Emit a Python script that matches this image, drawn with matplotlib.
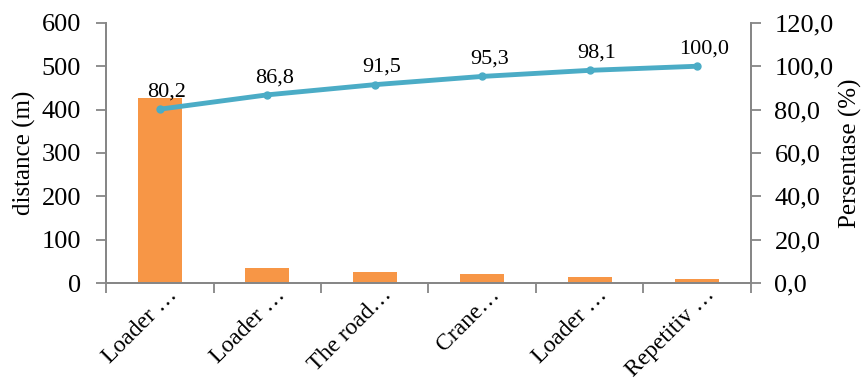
import matplotlib
matplotlib.use("Agg")
from matplotlib import pyplot as plt
from matplotlib.ticker import FuncFormatter, MultipleLocator, FixedLocator
import matplotlib.transforms as mtransforms
import numpy as np

# Data
categories = ["Loader …", "Loader …", "The road…", "Crane…", "Loader …", "Repetitiv …"]
distance = [427, 35, 25, 20, 15, 10]
percent = [80.2, 86.8, 91.5, 95.3, 98.1, 100.0]

plt.rcParams['font.family'] = ['Liberation Serif', 'DejaVu Serif']

bar_color = '#F79646'
line_color = '#4BACC6'
axis_color = '#868686'

fig = plt.figure(figsize=(8.63, 3.81), dpi=100)
ax = fig.add_axes([0.123, 0.257, 0.747, 0.683])
ax2 = ax.twinx()

x = np.arange(len(categories))
ax.bar(x, distance, width=0.41, color=bar_color, zorder=2)
ax2.plot(x, percent, color=line_color, lw=3.5, marker='o', ms=5, zorder=3,
         solid_capstyle='round')
for xi, p in zip(x, percent):
    ax2.annotate(f"{p:.1f}".replace('.', ','), (xi, p), xytext=(5, 5.5),
                 textcoords='offset points', ha='center', va='bottom', fontsize=16)

ax.set_xlim(-0.5, len(categories) - 0.5)
ax.set_ylim(0, 600)
ax2.set_ylim(0, 120)
ax.yaxis.set_major_locator(MultipleLocator(100))
ax2.yaxis.set_major_locator(MultipleLocator(20))
ax2.yaxis.set_major_formatter(FuncFormatter(lambda v, _: f"{v:.1f}".replace('.', ',')))

ax.set_xticks(x)
ax.set_xticklabels(categories, rotation=45, ha='right', va='top',
                   rotation_mode='anchor', fontsize=17)
ax.tick_params(axis='x', which='major', length=0, pad=1)
# nudge rotated labels a bit to the right, like the original
shift = mtransforms.ScaledTranslation(5 / 72, 0, fig.dpi_scale_trans)
for lbl in ax.get_xticklabels():
    lbl.set_transform(lbl.get_transform() + shift)
ax.xaxis.set_minor_locator(FixedLocator(np.arange(-0.5, len(categories), 1.0)))
ax.tick_params(axis='x', which='minor', length=7, color=axis_color, width=1.3)

for a in (ax, ax2):
    a.spines['top'].set_visible(False)
    for s in ('left', 'right', 'bottom'):
        a.spines[s].set_color(axis_color)
        a.spines[s].set_linewidth(1.3)
    a.tick_params(axis='y', length=7, color=axis_color, width=1.3, labelsize=19)
ax.tick_params(axis='y', pad=11)
ax2.tick_params(axis='y', pad=10)

ax.set_ylabel("distance (m)", fontsize=18, labelpad=4)
ax2.set_ylabel("Persentase (%)", fontsize=18, labelpad=4)

fig.savefig("out.png", dpi=100)
